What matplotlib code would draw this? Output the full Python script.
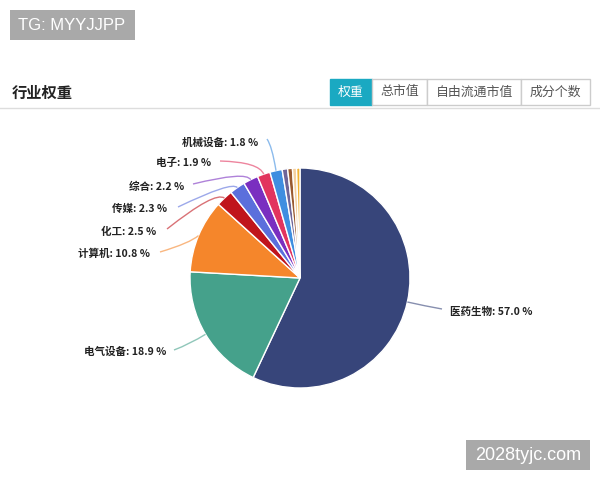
import matplotlib
matplotlib.use('Agg')
import matplotlib.pyplot as plt
import numpy as np
from matplotlib.patches import Rectangle, PathPatch
from matplotlib.path import Path

plt.rcParams['font.family'] = ['Noto Sans CJK SC', 'DejaVu Sans']

# industry weights (%)
names = ['医药生物', '电气设备', '计算机', '化工', '传媒', '综合', '电子', '机械设备',
         '', '', '', '']
weights = [57.0, 18.9, 10.8, 2.5, 2.3, 2.2, 1.9, 1.8, 0.8, 0.7, 0.6, 0.5]
colors = ['#37457a', '#45a18b', '#f5862b', '#c0141c', '#5b6fdc', '#7a2fc0',
          '#e2345e', '#3f8ee0', '#6e6598', '#9a5a30', '#f5d0a0', '#f2b233']
tabs = ['权重', '总市值', '自由流通市值', '成分个数']

# label layout in pixels: (text x, text y, ha, elbow, line end)
label_pos = {
    '医药生物': (450, 312, 'left', (425, 306), (442, 309)),
    '电气设备': (166, 352, 'right', (190, 344), (174, 350)),
    '计算机': (150, 254, 'right', (190, 243), (160, 252)),
    '化工': (156, 232, 'right', (215, 191), (167, 229)),
    '传媒': (167, 209, 'right', (232, 181), (178, 207)),
    '综合': (184, 187, 'right', (246, 171), (193, 184)),
    '电子': (211, 163, 'right', (259, 162), (220, 161)),
    '机械设备': (258, 143, 'right', (272, 146), (267, 139)),
}

cx, cy, r = 300, 278, 110

fig = plt.figure(figsize=(6, 4.8), dpi=100)
ax = fig.add_axes([0, 0, 1, 1])
ax.set_xlim(0, 600)
ax.set_ylim(480, 0)
ax.axis('off')

ax.pie(weights, colors=colors, startangle=-90, counterclock=True,
       center=(cx, cy), radius=r,
       wedgeprops=dict(edgecolor='white', linewidth=1))
ax.set_xlim(0, 600)
ax.set_ylim(480, 0)
ax.set_aspect('auto')

# labels with curved leader lines
total = sum(weights)
cum = 0
for name, w, col in zip(names, weights, colors):
    mid = -90 + 360 * (cum + w / 2) / total
    cum += w
    if name not in label_pos:
        continue
    tx, ty, ha, elbow, end = label_pos[name]
    start = (cx + r * np.cos(np.radians(mid)), cy + r * np.sin(np.radians(mid)))
    path = Path([start, elbow, end], [Path.MOVETO, Path.CURVE3, Path.CURVE3])
    ax.add_patch(PathPatch(path, fill=False, edgecolor=col, alpha=0.6, lw=1))
    ax.text(tx, ty, f'{name}: {w:.1f} %', ha=ha, va='center', fontsize=7.6,
            fontweight='bold', color='#222222')

# header
ax.text(12, 93, '行业权重', fontsize=11, fontweight='bold', va='center',
        ha='left', color='#222222')
ax.plot([0, 600], [108, 108], color='#dddddd', lw=1)

edges = [330, 372, 427, 521, 590]
for i, t in enumerate(tabs):
    x0, x1 = edges[i], edges[i + 1]
    active = i == 0
    ax.add_patch(Rectangle((x0, 79), x1 - x0, 26,
                           facecolor='#1aa9c2' if active else 'white',
                           edgecolor='#1aa9c2' if active else '#cccccc', lw=1))
    ax.text((x0 + x1) / 2, 92, t, ha='center', va='center', fontsize=9.3,
            color='white' if active else '#555555')

# watermarks
ax.add_patch(Rectangle((10, 10), 125, 30, facecolor='#a9a9a9', edgecolor='none'))
ax.text(18, 25, 'TG: MYYJJPP', fontsize=12, color='white', va='center',
        ha='left', family='Liberation Sans')
ax.add_patch(Rectangle((466, 440), 124, 30, facecolor='#a9a9a9', edgecolor='none'))
ax.text(528, 455, '2028tyjc.com', fontsize=13, color='white', va='center',
        ha='center', family='Liberation Sans')

fig.savefig('out.png', dpi=100)
